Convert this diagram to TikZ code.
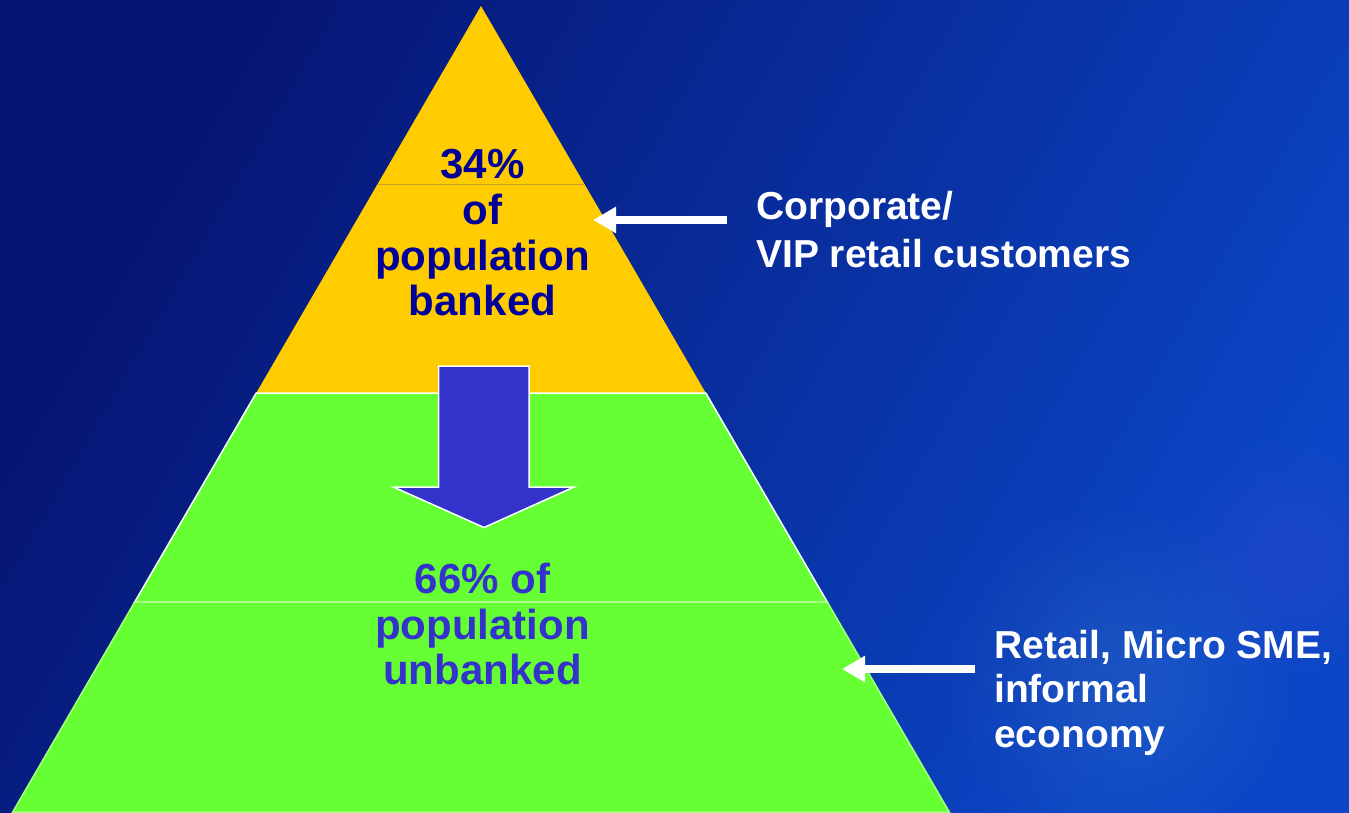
\documentclass[tikz,border=0pt]{standalone}
\usepackage{fontspec}
\setmainfont{Liberation Sans}
\usetikzlibrary{arrows.meta,shadings}
\definecolor{bgUL}{HTML}{061472}
\definecolor{bgUR}{HTML}{0A2E9E}
\definecolor{bgLL}{HTML}{08228C}
\definecolor{bgLR}{HTML}{0B46C6}
\definecolor{gold}{HTML}{FFCC00}
\definecolor{goldline}{HTML}{C8A030}
\definecolor{lime}{HTML}{66FF33}
\definecolor{limeline}{HTML}{A8FF80}
\definecolor{navytxt}{HTML}{000099}
\definecolor{violet}{HTML}{3333CC}
\tikzset{
  bigtxt/.style={inner sep=0pt, anchor=base, font=\bfseries\fontsize{42}{46}\selectfont},
  sidetxt/.style={inner sep=0pt, anchor=base west, text=white, font=\bfseries\fontsize{39}{44}\selectfont},
  warrow/.style={draw=white, line width=8pt, -{Triangle[length=23pt,width=25pt]}},
}
\begin{document}
\begin{tikzpicture}[x=1pt,y=-1pt]
\useasboundingbox (0,0) rectangle (1349,812);
% background
\shade[shading=axis, left color=bgUL, right color=bgLR, shading angle=60] (0,0) rectangle (1349,812);
\foreach \r in {170,160,...,40}{
  \fill[bgLR!60!white, opacity=0.018] (1120,680) circle (\r);
  \fill[bgLR!60!white, opacity=0.012] (1290,560) circle (0.7*\r);
}
% pyramid: x = 481 +- 0.581*(y-6)
\fill[gold] (481,6) -- (705.8,393) -- (256.2,393) -- cycle;
\draw[goldline, line width=1pt] (377.6,184) -- (584.4,184);
\filldraw[fill=lime, draw=white, line width=1.5pt] (256.2,393) -- (705.8,393) -- (827.3,602) -- (134.7,602) -- cycle;
\filldraw[fill=lime, draw=limeline, line width=1.5pt] (134.7,602) -- (827.3,602) -- (949.3,812) -- (12.7,812) -- cycle;
% down arrow
\filldraw[fill=violet, draw=white, line width=1.5pt]
  (438.5,366) -- (529,366) -- (529,487) -- (574,487) -- (484,527.5) -- (393.5,487) -- (438.5,487) -- cycle;
% texts in pyramid
\node[bigtxt, text=navytxt] (l1) at (482.5,178) {34\%};
\node[bigtxt, text=navytxt] (l2) at (482.5,224) {of};
\node[bigtxt, text=navytxt] (l3) at (482.5,270) {population};
\node[bigtxt, text=navytxt] (l4) at (482.5,315) {banked};
\node[bigtxt, text=violet] (u1) at (482.5,593) {66\% of};
\node[bigtxt, text=violet] (u2) at (482.5,639) {population};
\node[bigtxt, text=violet] (u3) at (482.5,684) {unbanked};
% side labels
\node[sidetxt] (r1) at (756,219) {Corporate/};
\node[sidetxt] (r2) at (756,267) {VIP retail customers};
\node[sidetxt] (s1) at (994,658) {Retail, Micro SME,};
\node[sidetxt] (s2) at (994,702) {informal};
\node[sidetxt] (s3) at (994,747) {economy};
% pointer arrows
\coordinate (a1tail) at (727,220);
\coordinate (a1tip) at (593,220);
\coordinate (a2tail) at (975,669);
\coordinate (a2tip) at (842,669);
\draw[warrow] (a1tail) -- (a1tip);
\draw[warrow] (a2tail) -- (a2tip);
\end{tikzpicture}
\end{document}
